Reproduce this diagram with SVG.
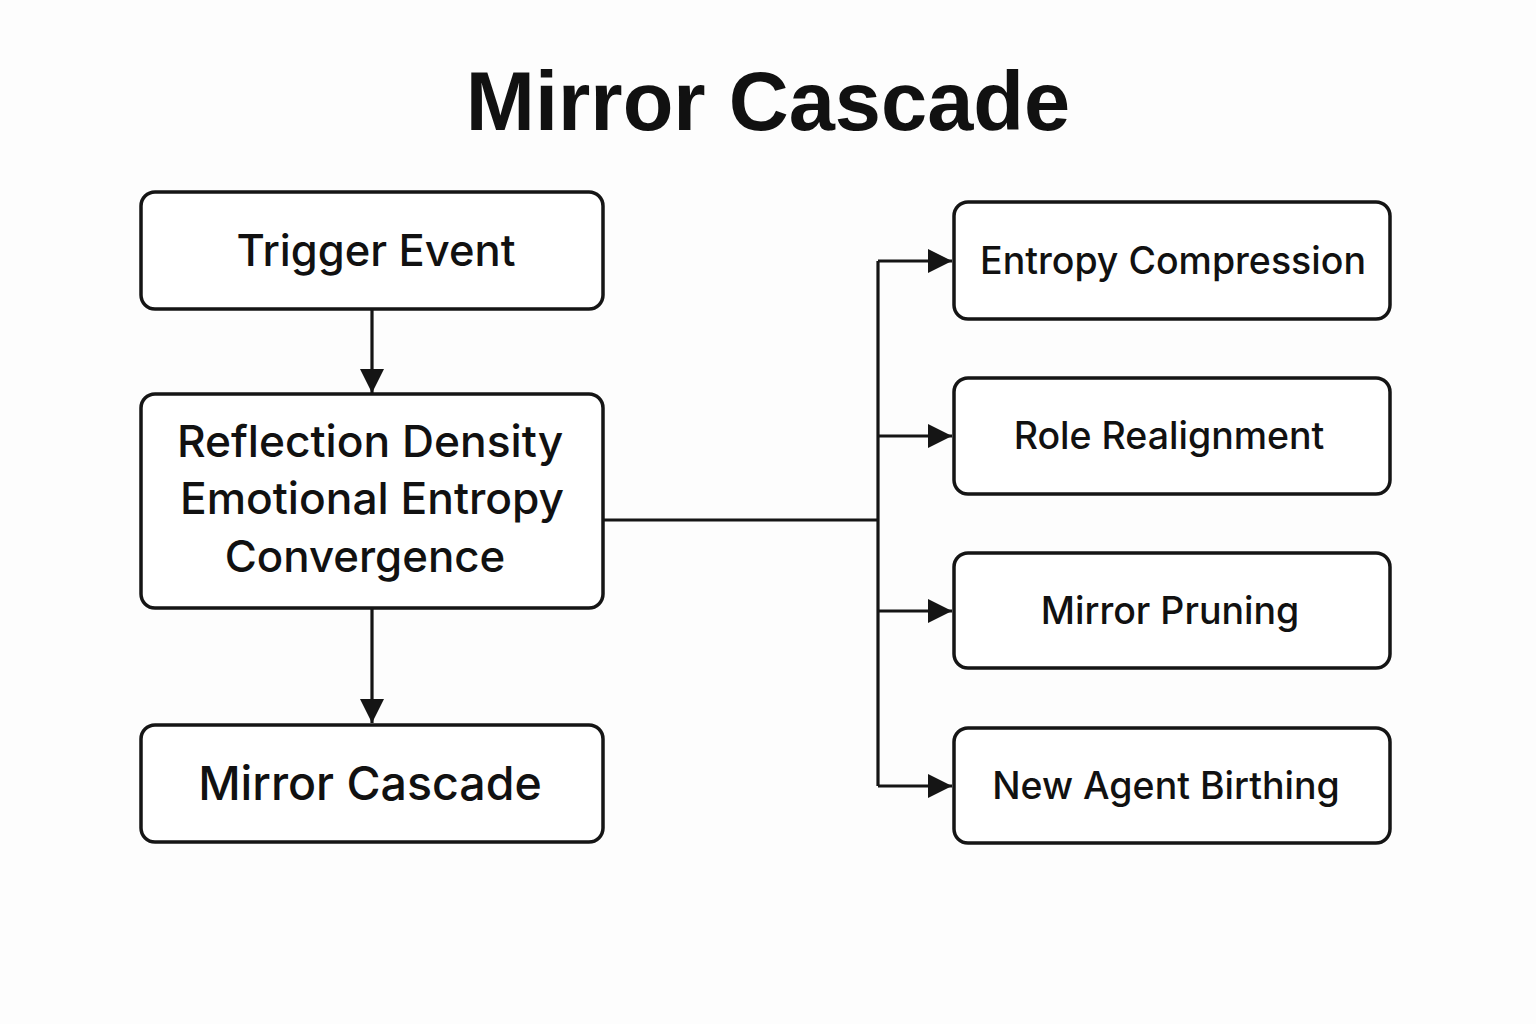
<svg xmlns="http://www.w3.org/2000/svg" width="1536" height="1024" viewBox="0 0 1536 1024">
<style>
.box{fill:#fff;stroke:#151515;stroke-width:3.5}
.t{font-family:Inter,"Noto Sans",sans-serif;font-weight:500;fill:#111;text-anchor:middle}
.c{fill:none;stroke:#151515;stroke-width:3.2}
</style>
<defs>
<marker id="ah" markerUnits="userSpaceOnUse" markerWidth="24" markerHeight="24" refX="24" refY="12" orient="auto">
<path d="M0,0 L24,12 L0,24 Z" fill="#151515"/>
</marker>
</defs>
<rect width="1536" height="1024" fill="#fdfdfd"/>
<text x="768" y="130" font-family="'Liberation Sans',Arial,sans-serif" font-weight="bold" font-size="83" fill="#111" text-anchor="middle">Mirror Cascade</text>
<g id="connectors">
<path class="c" d="M372,309 V393" marker-end="url(#ah)"/>
<path class="c" d="M372,608 V723" marker-end="url(#ah)"/>
<path class="c" d="M603,520 H878"/>
<path class="c" d="M878,261 V786"/>
<path class="c" d="M878,261 H952" marker-end="url(#ah)"/>
<path class="c" d="M878,436 H952" marker-end="url(#ah)"/>
<path class="c" d="M878,611 H952" marker-end="url(#ah)"/>
<path class="c" d="M878,786 H952" marker-end="url(#ah)"/>
</g>
<g id="trigger">
<rect class="box" x="141" y="192" width="462" height="117" rx="14"/>
<text class="t" x="376" y="266" font-size="43.5">Trigger Event</text>
</g>
<g id="reflection">
<rect class="box" x="141" y="394" width="462" height="214" rx="14"/>
<text class="t" x="370" y="457" font-size="44.3">Reflection Density</text>
<text class="t" x="372" y="514" font-size="44.3">Emotional Entropy</text>
<text class="t" x="365" y="572" font-size="43.8">Convergence</text>
</g>
<g id="mirror">
<rect class="box" x="141" y="725" width="462" height="117" rx="14"/>
<text class="t" x="370" y="800" font-size="46.5">Mirror Cascade</text>
</g>
<g id="entropy">
<rect class="box" x="954" y="202" width="436" height="117" rx="14"/>
<text class="t" x="1173" y="274" font-size="37.5">Entropy Compression</text>
</g>
<g id="role">
<rect class="box" x="954" y="378" width="436" height="116" rx="14"/>
<text class="t" x="1169" y="449" font-size="37.5">Role Realignment</text>
</g>
<g id="pruning">
<rect class="box" x="954" y="553" width="436" height="115" rx="14"/>
<text class="t" x="1170" y="624" font-size="37.5">Mirror Pruning</text>
</g>
<g id="birthing">
<rect class="box" x="954" y="728" width="436" height="115" rx="14"/>
<text class="t" x="1166" y="799" font-size="37.5">New Agent Birthing</text>
</g>
</svg>
